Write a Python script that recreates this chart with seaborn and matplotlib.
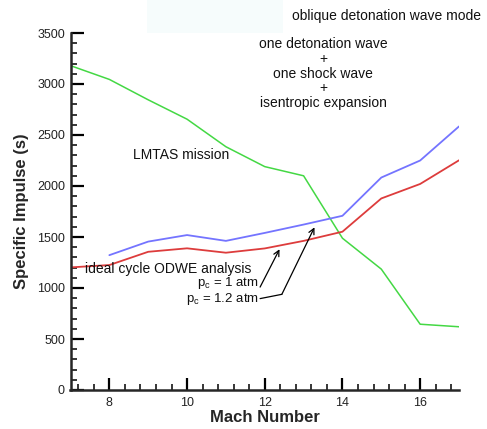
import matplotlib
matplotlib.use("Agg")
import matplotlib.pyplot as plt
from matplotlib.patches import Rectangle
from matplotlib.ticker import MultipleLocator
import numpy as np
import pandas as pd
import seaborn as sns

# Specific impulse versus flight Mach number
mach_lmtas = [7, 8, 9, 10, 11, 12, 13, 14, 15, 16, 17]
isp_lmtas = [3180, 3045, 2845, 2655, 2385, 2190, 2100, 1488, 1185, 645, 620]

mach_odwe = [8, 9, 10, 11, 12, 13, 14, 15, 16, 17]
isp_pc_1_0 = [1322, 1455, 1519, 1462, 1540, 1622, 1708, 2083, 2250, 2584]

mach_odwe_12 = [7, 8, 9, 10, 11, 12, 13, 14, 15, 16, 17]
isp_pc_1_2 = [1202, 1225, 1355, 1389, 1346, 1388, 1462, 1552, 1878, 2020, 2252]

x_ticks = [8, 10, 12, 14, 16]
y_ticks = [0, 500, 1000, 1500, 2000, 2500, 3000, 3500]

sns.set_style("ticks")
plt.rcParams["font.family"] = ["Liberation Sans", "DejaVu Sans"]
plt.rcParams["mathtext.fontset"] = "custom"
plt.rcParams["mathtext.rm"] = "Liberation Sans"
plt.rcParams["mathtext.it"] = "Liberation Sans"

fig = plt.figure(figsize=(4.87, 4.29), dpi=100)
fig.patches.append(Rectangle((147 / 487, 1 - 33 / 429), 136 / 487, 33 / 429,
                             transform=fig.transFigure, facecolor="#f6fcfc",
                             edgecolor="none", zorder=0))
ax = fig.add_axes([70.5 / 487, 1 - 390 / 429, 388.5 / 487, 357 / 429])
ax.patch.set_alpha(0)

sns.lineplot(x=mach_lmtas, y=isp_lmtas, ax=ax, color="#44d844", lw=1.1)
sns.lineplot(x=mach_odwe, y=isp_pc_1_0, ax=ax, color="#7474ff", lw=1.3)
sns.lineplot(x=mach_odwe_12, y=isp_pc_1_2, ax=ax, color="#dd3c3c", lw=1.3)

ax.set_xlim(7, 17)
ax.set_ylim(0, 3500)
ax.set_xticks(x_ticks)
ax.set_yticks(y_ticks)
ax.xaxis.set_minor_locator(MultipleLocator(0.4))
ax.yaxis.set_minor_locator(MultipleLocator(100))
ax.tick_params(axis="both", which="major", direction="in", length=9, width=1.6,
               labelsize=9, colors="black", pad=4, labelcolor="#222222")
ax.tick_params(axis="both", which="minor", direction="in", length=4.5, width=1.3)
ax.tick_params(axis="x", pad=5)
for side in ("top", "right"):
    ax.spines[side].set_visible(False)
for side in ("left", "bottom"):
    ax.spines[side].set_linewidth(1.8)

ax.set_xlabel("Mach Number", fontsize=12, fontweight="bold", labelpad=1)
ax.set_ylabel("Specific Impulse (s)", fontsize=12, fontweight="bold", labelpad=6)

txt = dict(fontsize=10, color="#111111")
fig.text(292 / 487, 1 - 16 / 429, "oblique detonation wave mode", ha="left", va="center", **txt)
fig.text(323 / 487, 1 - 73.5 / 429,
         "one detonation wave\n+\none shock wave\n+\nisentropic expansion",
         ha="center", va="center", linespacing=1.07, **txt)
ax.text(8.6, 2300, "LMTAS mission", ha="left", va="center", **txt)
ax.text(7.37, 1185, "ideal cycle ODWE analysis", ha="left", va="center", **txt)
small = dict(fontsize=9.5, color="#111111")
ax.text(11.86, 1050, r"p$_\mathregular{c}$ = 1 atm", ha="right", va="center", **small)
ax.text(11.86, 892, r"p$_\mathregular{c}$ = 1.2 atm", ha="right", va="center", **small)

arrow = dict(arrowstyle="->", color="black", lw=0.9, shrinkA=0, shrinkB=0)
ax.annotate("", xy=(12.38, 1380), xytext=(11.88, 1009), arrowprops=arrow)
ax.plot([11.88, 12.44], [896, 938], color="black", lw=0.9)
ax.annotate("", xy=(13.28, 1595), xytext=(12.44, 938), arrowprops=arrow)

fig.savefig("out.png", dpi=100)
